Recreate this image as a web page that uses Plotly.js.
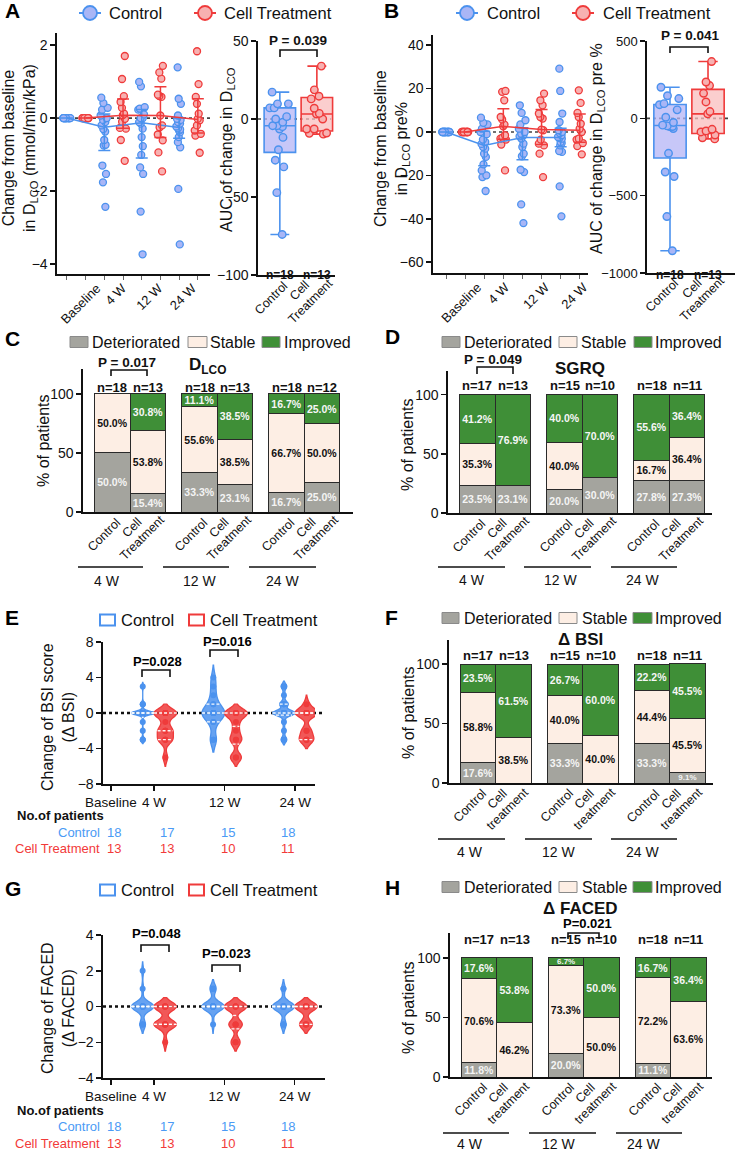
<!DOCTYPE html>
<html><head><meta charset="utf-8">
<script src="https://cdn.plot.ly/plotly-3.0.1.min.js"></script>
<style>html,body{margin:0;padding:0;background:#fff}#chart{width:741px;height:1151px}</style>
</head><body><div id="chart"></div>
<script>
// ================= DATA =================
const timeLabels = ['Baseline', '4 W', '12 W', '24 W'];
const armNames = ['Control', 'Cell Treatment'];
const weekLabels = ['4 W', '12 W', '24 W'];
const barArmLabelsCD = ['Control', 'Cell<br>Treatment'];
const barArmLabelsFH = ['Control', 'Cell<br>treatment'];
const outcomeNames = ['Deteriorated', 'Stable', 'Improved'];

// Panel A: change from baseline in DLCO (mmol/min/kPa), per time point
const dlcoCtrl = [
  [0,0,0,0,0,0,0,0,0,0,0,0,0,0,0,0,0,0],
  [0.56,0.41,0.28,0.23,0.07,0,-0.05,-0.11,-0.2,-0.3,-0.37,-0.6,-0.73,-0.75,-1.3,-1.53,-1.76,-2.43],
  [0.99,0.87,0.30,0.26,0.23,0.10,0,0,-0.11,-0.15,-0.29,-0.52,-0.77,-1.01,-1.35,-1.53,-2.56,-3.73],
  [1.39,0.53,0.39,0.07,-0.02,-0.05,-0.11,-0.15,-0.23,-0.28,-0.31,-0.34,-0.39,-0.52,-0.66,-0.8,-1.94,-3.46]
];
const dlcoCell = [
  [0,0,0,0,0,0,0,0,0,0,0,0,0],
  [1.70,1.07,0.60,0.44,0.28,0.12,0.08,-0.02,-0.1,-0.27,-0.29,-0.60,-1.17],
  [1.43,1.25,1.08,0.64,0.6,0.58,0.07,-0.2,-0.25,-0.45,-0.61,-0.94,-1.46],
  [1.83,0.93,0.58,0.39,0.12,-0.02,-0.06,-0.2,-0.34,-0.43,-0.48,-0.95]
];
const aucDlcoCtrl = [17.2,9.7,9.7,7.1,7.1,1.5,0,-2.1,-4.3,-4.3,-4.9,-6.4,-11.8,-19.7,-26.4,-30.7,-47.2,-74.0];
const aucDlcoCell = [33.9,18.7,14.6,12.9,6.9,3.6,3.2,0,-6.4,-6.4,-9.2,-9.0,-9.7];

// Panel B: change from baseline in DLCO pre%
const dlcoPctCtrl = [
  [0,0,0,0,0,0,0,0,0,0,0,0,0,0,0,0,0,0],
  [6.6,4.2,3.5,1.5,0,-1.0,-3.5,-4.6,-5.5,-6.9,-7.7,-10,-11.5,-14.9,-17.7,-20,-20.8,-27.2],
  [12.3,8.8,5.4,3.5,1.5,0,-0.8,-1.5,-2,-3,-5.4,-6.9,-10,-11.2,-17.4,-18.5,-33.4,-42],
  [29.2,18.9,8.5,4.6,0.8,0,-0.5,-1.5,-2.3,-2.8,-3.1,-4.6,-5.1,-6.2,-8.8,-9.2,-25.1,-38.9]
];
const dlcoPctCell = [
  [0,0,0,0,0,0,0,0,0,0,0,0,0],
  [18.9,18.5,14.6,6.9,5.8,3.4,2.6,-1.5,-2.6,-3.1,-3.5,-5.8,-17.7],
  [17.7,14.6,12.3,8.5,6.9,6.2,1.1,0.8,-3.5,-5.4,-6.2,-10,-20.8],
  [19.2,13.4,8.8,6.9,3.8,1.5,0,-3.1,-3.5,-5.1,-6.5,-10.3]
];
const aucPctCtrl = [201,146,128,95,88,55,7,-27,-44,-49,-53,-53,-66,-226,-347,-376,-635,-856];
const aucPctCell = [367,235,212,162,106,44,29,-71,-82,-88,-108,-126,-133];

// Panel C: DLCO categories (%), order: 4W ctrl, 4W cell, 12W ctrl, 12W cell, 24W ctrl, 24W cell
const dlcoDet    = [50.0, 15.4, 33.3, 23.1, 16.7, 25.0];
const dlcoStable = [50.0, 53.8, 55.6, 38.5, 66.7, 50.0];
const dlcoImp    = [0,    30.8, 11.1, 38.5, 16.7, 25.0];
const dlcoN      = [18, 13, 18, 13, 18, 12];

// Panel D: SGRQ
const sgrqDet    = [23.5, 23.1, 20.0, 30.0, 27.8, 27.3];
const sgrqStable = [35.3, 0,    40.0, 0,    16.7, 36.4];
const sgrqImp    = [41.2, 76.9, 40.0, 70.0, 55.6, 36.4];
const sgrqN      = [17, 13, 15, 10, 18, 11];

// Panel E: change of BSI score (4W, 12W, 24W)
const bsiCtrl = [
  [3,1,1,0,0,0,0,0,0,0,0,0,0,-1,-2,-3,-3],
  [4,3,2,1,1,0,0,0,0,0,0,-1,-1,-3,-3],
  [3,3,2,1,1,1,0,0,0,0,0,0,0,0,-1,-2,-3,-3]
];
const bsiCell = [
  [0,0,0,0,0,-1,-2,-2,-2,-3,-3,-3,-5],
  [0,0,0,0,-1,-2,-3,-3,-5,-5],
  [1,0,0,0,0,0,-2,-2,-3,-3,-3]
];
const bsiNCtrl = [18, 17, 15, 18];
const bsiNCell = [13, 13, 10, 11];

// Panel F: ΔBSI categories
const bsiDet    = [17.6, 0,    33.3, 0,    33.3, 9.1];
const bsiStable = [58.8, 38.5, 40.0, 40.0, 44.4, 45.5];
const bsiImp    = [23.5, 61.5, 26.7, 60.0, 22.2, 45.5];
const bsiN      = [17, 13, 15, 10, 18, 11];

// Panel G: change of FACED
const facedCtrl = [
  [2,1,0,0,0,0,0,0,0,0,0,0,0,0,-1,-1,-1],
  [1,1,1,0,0,0,0,0,0,0,0,0,0,0,-1],
  [1,1,0,0,0,0,0,0,0,0,0,0,0,0,0,-1,-1,-1]
];
const facedCell = [
  [0,0,0,0,0,0,-1,-1,-1,-1,-1,-1,-2],
  [0,0,0,0,0,-1,-1,-1,-2,-2],
  [0,0,0,0,0,0,0,-1,-1,-1,-1]
];
const facedNCtrl = [18, 17, 15, 18];
const facedNCell = [13, 13, 10, 11];

// Panel H: ΔFACED categories
const facedDet    = [11.8, 0,    20.0, 0,    11.1, 0];
const facedStable = [70.6, 46.2, 73.3, 50.0, 72.2, 63.6];
const facedImp    = [17.6, 53.8, 6.7,  50.0, 16.7, 36.4];
const facedN      = [17, 13, 15, 10, 18, 11];

// ================= STYLE / HELPERS =================
const FONT = 'Liberation Sans, Arial, Helvetica, sans-serif';
const W = 741, H = 1151;
const px = v => v / W;
const py = v => 1 - v / H;
const BLUE = '#4b92ee', BLUE_FILL = '#a9b6f6', BLUE_BOX = 'rgba(180,180,245,0.75)';
const RED = '#ef3b3b', RED_FILL = '#f7b1b1', RED_BOX = 'rgba(250,190,190,0.75)';
const TBLUE = '#4a9af5', TRED = '#f23a3a';
const OUT_COLORS = ['#a4a49e', '#fdeee4', '#3f8f37'];
const OUT_TEXT = ['#f4f4f4', '#111', '#f6f6f6'];
// kernel bandwidths (styling of the violin outlines), per arm and time point
const bwBsi = [[0.22, 0.7, 0.3], [0.5, 0.5, 0.5]];
const bwFaced = [[0.25, 0.25, 0.25], [0.25, 0.25, 0.25]];
const VIOLIN_W = 0.32;

function quant(arr, p) {
  const s = [...arr].sort((a, b) => a - b); const n = s.length;
  let pos = p * (n + 1); if (pos < 1) pos = 1; if (pos > n) pos = n;
  const lo = Math.floor(pos), hi = Math.ceil(pos);
  return s[lo - 1] + (s[hi - 1] - s[lo - 1]) * (pos - lo);
}
function kde(vals, bw, y) { return vals.reduce((s, v) => s + Math.exp(-0.5 * Math.pow((y - v) / bw, 2)), 0); }
function violinHalfWidth(vals, bw, y) {
  const lo = Math.min(...vals) - 2 * bw, hi = Math.max(...vals) + 2 * bw;
  let mx = 0;
  for (let k = 0; k <= 400; k++) mx = Math.max(mx, kde(vals, bw, lo + (hi - lo) * k / 400));
  return kde(vals, bw, y) / mx * VIOLIN_W / 2;
}
function axisBase(extra) {
  return Object.assign({
    showgrid: false, zeroline: false, showline: true, linecolor: '#111', linewidth: 1.6,
    ticks: 'outside', ticklen: 5, tickwidth: 1.5, tickcolor: '#111',
    tickfont: {family: FONT, size: 14, color: '#111'}, fixedrange: true
  }, extra);
}
function T(text, x, y, o) {
  return Object.assign({text, x: px(x), y: py(y), xref: 'paper', yref: 'paper', showarrow: false,
    xanchor: 'center', yanchor: 'middle', font: {family: FONT, size: 13, color: '#000'}}, o || {});
}
const traces = [];
const annotations = [];
const shapes = [];

function addTimeScatter(ctrlArr, cellArr, xa, ya) {
  [ctrlArr, cellArr].forEach((series, arm) => {
    const c = arm === 0 ? BLUE : RED, f = arm === 0 ? BLUE_FILL : RED_FILL;
    const xs = [], meds = [], up = [], dn = [];
    series.forEach((vals, t) => {
      const pos = 2 * t + arm;
      traces.push({type: 'box', x: vals.map(() => pos), y: vals, xaxis: xa, yaxis: ya, name: armNames[arm],
        boxpoints: 'all', jitter: 0.75, pointpos: 0, width: 0.55,
        fillcolor: 'rgba(0,0,0,0)', line: {width: 0, color: 'rgba(0,0,0,0)'},
        marker: {size: 7, color: f, line: {color: c, width: 1.3}}, hoverinfo: 'y'});
      const m = quant(vals, 0.5);
      xs.push(pos); meds.push(m); up.push(quant(vals, 0.75) - m); dn.push(m - quant(vals, 0.25));
    });
    traces.push({type: 'scatter', mode: 'lines', x: xs, y: meds, xaxis: xa, yaxis: ya, name: armNames[arm],
      line: {color: c, width: 1.5},
      error_y: {type: 'data', symmetric: false, array: up, arrayminus: dn, color: c, thickness: 1.5, width: 6}});
  });
}
function addAuc(ctrl, cell, xa, ya) {
  [ctrl, cell].forEach((vals, arm) => {
    const c = arm === 0 ? BLUE : RED, f = arm === 0 ? BLUE_FILL : RED_FILL, bf = arm === 0 ? BLUE_BOX : RED_BOX;
    traces.push({type: 'box', orientation: 'v', x: [arm], q1: [quant(vals, 0.25)], median: [quant(vals, 0.5)],
      q3: [quant(vals, 0.75)], lowerfence: [Math.min(...vals)], upperfence: [Math.max(...vals)],
      width: 0.85, whiskerwidth: 0.6, fillcolor: bf, line: {color: c, width: 1.6}, boxpoints: false,
      xaxis: xa, yaxis: ya, name: armNames[arm], hoverinfo: 'skip'});
    traces.push({type: 'box', x: vals.map(() => arm), y: vals, xaxis: xa, yaxis: ya, name: armNames[arm],
      boxpoints: 'all', jitter: 0.8, pointpos: 0, width: 0.85,
      fillcolor: 'rgba(0,0,0,0)', line: {width: 0, color: 'rgba(0,0,0,0)'},
      marker: {size: 7.5, color: f, line: {color: c, width: 1.4}}, hoverinfo: 'y'});
  });
}
function barPositions(n) { return Array.from({length: n}, (_, i) => Math.floor(i / 2) * 2.45 + (i % 2)); }
function addBars(det, stab, imp, xa, ya) {
  const pos = barPositions(det.length);
  [det, stab, imp].forEach((vals, k) => {
    const idx = vals.map((v, i) => i).filter(i => vals[i] > 0);
    traces.push({type: 'bar', x: idx.map(i => pos[i]), y: idx.map(i => vals[i]), width: 1, xaxis: xa, yaxis: ya,
      name: outcomeNames[k], marker: {color: OUT_COLORS[k], line: {color: '#2a2a2a', width: 1}},
      text: idx.map(i => vals[i].toFixed(1) + '%'), textposition: 'inside',
      insidetextanchor: 'middle', textangle: 0, constraintext: 'none',
      textfont: {family: FONT, size: idx.map(i => vals[i] < 10 ? 8 : 10.5), color: OUT_TEXT[k], weight: 700},
      hoverinfo: 'y'});
  });
}
function addViolins(ctrl, cell, xa, ya, bws) {
  [ctrl, cell].forEach((series, arm) => {
    const c = arm === 0 ? BLUE : RED;
    const fc = arm === 0 ? 'rgba(75,146,238,0.85)' : 'rgba(239,59,59,0.85)';
    series.forEach((vals, t) => {
      const pos = t + 1 + (arm === 0 ? -0.16 : 0.16);
      const bw = bws[arm][t];
      traces.push({type: 'violin', x: vals.map(() => pos), y: vals, xaxis: xa, yaxis: ya, name: armNames[arm],
        width: VIOLIN_W, bandwidth: bw, scalemode: 'width', spanmode: 'soft', fillcolor: fc,
        line: {color: c, width: 1.3}, points: 'all', pointpos: 0, jitter: 0,
        marker: {size: 6, color: c}, box: {visible: false}, meanline: {visible: false}, hoverinfo: 'y'});
      // median & quartile lines (dashed white), spanning the violin's width at that level
      [0.25, 0.5, 0.75].forEach(p => {
        const q = quant(vals, p);
        const hw = violinHalfWidth(vals, bw, q);
        shapes.push({type: 'line', xref: xa, yref: ya, x0: pos - hw, x1: pos + hw, y0: q, y1: q,
          line: {color: 'rgba(255,255,255,0.95)', width: 1.3, dash: '3px,2px'}});
      });
    });
  });
}
function bracket(x0, x1, yt, yb) {
  shapes.push({type: 'path', xref: 'paper', yref: 'paper',
    path: `M${px(x0)},${py(yb)} L${px(x0)},${py(yt)} L${px(x1)},${py(yt)} L${px(x1)},${py(yb)}`,
    line: {color: '#111', width: 1.6}});
}
function zeroLine(xa, ya, x1, color, width) {
  shapes.push({type: 'line', xref: xa + ' domain', yref: ya, x0: 0, x1: x1, y0: 0, y1: 0, layer: 'below',
    line: {color, width, dash: 'dot'}});
}
function nLabels(ns, xa, ypx) {
  barPositions(ns.length).forEach((p, i) => annotations.push({text: '<b>n=' + ns[i] + '</b>', x: p, xref: xa,
    y: py(ypx), yref: 'paper', showarrow: false, font: {family: FONT, size: 13, color: '#111'}}));
}
// rotated category labels under an axis (each text line placed as its own rotated label)
function catLabels(xa, positions, texts, axisY) {
  positions.forEach((p, i) => {
    const parts = texts[i].split('<br>');
    const base = {x: p, xref: xa, y: py(axisY), yref: 'paper', xanchor: 'center', yanchor: 'middle',
      textangle: -45, showarrow: false, font: {family: FONT, size: 12.5, color: '#111'}};
    if (parts.length === 1) {
      annotations.push(Object.assign({text: parts[0], xshift: -8.5, yshift: -23}, base));
    } else {
      annotations.push(Object.assign({text: parts[0], xshift: -16.5, yshift: -15.5}, base));
      annotations.push(Object.assign({text: parts[1], xshift: -6, yshift: -26}, base));
    }
  });
}
function groupUnder(lines, labelsX, yLine, yText) {
  lines.forEach((l, i) => {
    shapes.push({type: 'line', xref: 'paper', yref: 'paper', x0: px(l[0]), x1: px(l[1]), y0: py(yLine), y1: py(yLine),
      line: {color: '#111', width: 1.6}});
    annotations.push(T(weekLabels[i], labelsX[i], yText, {font: {family: FONT, size: 14, color: '#111'}}));
  });
}
function patientTable(nC, nT, yHead, yC, yT) {
  annotations.push(T('<b>No.of patients</b>', 15, yHead, {xanchor: 'left', font: {family: FONT, size: 13, color: '#111'}}));
  annotations.push(T(armNames[0], 102, yC, {xanchor: 'right', font: {family: FONT, size: 13, color: TBLUE}}));
  annotations.push(T(armNames[1], 102, yT, {xanchor: 'right', font: {family: FONT, size: 13, color: TRED}}));
  const xs = [114, 167, 228, 288];
  nC.forEach((n, i) => annotations.push(T(String(n), xs[i], yC, {font: {family: FONT, size: 13, color: TBLUE}})));
  nT.forEach((n, i) => annotations.push(T(String(n), xs[i], yT, {font: {family: FONT, size: 13, color: TRED}})));
}
// legends drawn as key shapes + text
function keyLineMarker(items, y) {
  items.forEach(([xc, tx], arm) => {
    const c = arm === 0 ? BLUE : RED, f = arm === 0 ? BLUE_FILL : RED_FILL;
    shapes.push({type: 'line', xref: 'paper', yref: 'paper', x0: px(xc - 11), x1: px(xc + 11), y0: py(y), y1: py(y), line: {color: c, width: 2}});
    shapes.push({type: 'circle', xref: 'paper', yref: 'paper', x0: px(xc - 7), x1: px(xc + 7), y0: py(y + 7), y1: py(y - 7),
      fillcolor: f, line: {color: c, width: 1.8}});
    annotations.push(T(armNames[arm], tx, y, {xanchor: 'left', font: {family: FONT, size: 16.5, color: '#111'}}));
  });
}
function keySwatch(items, y) {
  items.forEach(([x0, x1, tx], k) => {
    shapes.push({type: 'rect', xref: 'paper', yref: 'paper', x0: px(x0), x1: px(x1), y0: py(y + 5.5), y1: py(y - 5.5),
      fillcolor: OUT_COLORS[k], line: {color: '#8a8a8a', width: 1}});
    annotations.push(T(outcomeNames[k], tx, y, {xanchor: 'left', font: {family: FONT, size: 16, color: '#111'}}));
  });
}
function keyBox(items, y) {
  items.forEach(([x0, x1, tx], arm) => {
    const c = arm === 0 ? BLUE : RED;
    shapes.push({type: 'rect', xref: 'paper', yref: 'paper', x0: px(x0), x1: px(x1), y0: py(y + 5.5), y1: py(y - 5.5),
      fillcolor: 'rgba(0,0,0,0)', line: {color: c, width: 2}});
    annotations.push(T(armNames[arm], tx, y, {xanchor: 'left', font: {family: FONT, size: 16.5, color: '#111'}}));
  });
}

// ================= BUILD =================
addTimeScatter(dlcoCtrl, dlcoCell, 'x', 'y');
addAuc(aucDlcoCtrl, aucDlcoCell, 'x2', 'y2');
addTimeScatter(dlcoPctCtrl, dlcoPctCell, 'x3', 'y3');
addAuc(aucPctCtrl, aucPctCell, 'x4', 'y4');
addBars(dlcoDet, dlcoStable, dlcoImp, 'x5', 'y5');
addBars(sgrqDet, sgrqStable, sgrqImp, 'x6', 'y6');
addViolins(bsiCtrl, bsiCell, 'x7', 'y7', bwBsi);
addBars(bsiDet, bsiStable, bsiImp, 'x8', 'y8');
addViolins(facedCtrl, facedCell, 'x9', 'y9', bwFaced);
addBars(facedDet, facedStable, facedImp, 'x10', 'y10');

zeroLine('x', 'y', 1, '#444', 1.6);
zeroLine('x2', 'y2', 0.95, '#444', 1.6);
zeroLine('x3', 'y3', 1, '#444', 1.6);
zeroLine('x4', 'y4', 0.95, '#444', 1.6);
zeroLine('x7', 'y7', 1.04, '#111', 2.6);
zeroLine('x9', 'y9', 1, '#111', 2.6);

// keys
keyLineMarker([[90, 107], [205, 222]], 13);
keyLineMarker([[467, 485], [583, 601]], 13);
keySwatch([[70, 88, 90], [188, 207, 208], [262, 280, 282]], 342);
keySwatch([[442, 460, 462], [559, 577, 579], [634, 652, 653]], 342);
keyBox([[100, 115, 119], [189, 204, 208]], 620);
keySwatch([[442, 459, 462], [559, 577, 580], [633, 652, 653]], 618);
keyBox([[100, 115, 119], [189, 204, 208]], 890);
keySwatch([[442, 459, 462], [559, 577, 580], [633, 652, 653]], 887);

const barPos = barPositions(6);
const cdText = barPos.map((_, i) => barArmLabelsCD[i % 2]);
const fhText = barPos.map((_, i) => barArmLabelsFH[i % 2]);
catLabels('x2', [0, 1], barArmLabelsCD, 275);
catLabels('x4', [0, 1], barArmLabelsCD, 273);
catLabels('x5', barPos, cdText, 512);
catLabels('x6', barPos, cdText, 513);
catLabels('x8', barPos, fhText, 783);
catLabels('x10', barPos, fhText, 1077);

// panel letters
[['A', 3, 11], ['B', 382, 11], ['C', 3, 338], ['D', 383, 337], ['E', 3, 617], ['F', 383, 617], ['G', 3, 888], ['H', 383, 887]]
  .forEach(([l, x, y]) => annotations.push(T('<b>' + l + '</b>', x, y, {xanchor: 'left', font: {family: FONT, size: 21, color: '#000'}})));

// y titles
const yt = (text, x, y) => annotations.push(T(text, x, y, {textangle: -90, font: {family: FONT, size: 16, color: '#111'}}));
yt('Change from baseline<br>in D<sub>LCO</sub> (mmol/min/kPa)', 20, 148);
yt('AUC of change in D<sub>LCO</sub>', 228, 150);
yt('Change from baseline<br>in D<sub>LCO</sub> pre%', 392, 149);
yt('AUC of change in D<sub>LCO</sub> pre %', 598, 149);
yt('% of patients', 43, 441);
yt('% of patients', 408, 445);
yt('Change of BSI score<br>(\u0394 BSI)', 58, 717);
yt('% of patients', 408, 713);
yt('Change of FACED<br>(\u0394 FACED)', 58, 1008);
yt('% of patients', 408, 1008);

// AUC n labels
[[aucDlcoCtrl, aucDlcoCell, 'x2', 266], [aucPctCtrl, aucPctCell, 'x4', 266]].forEach(([a, b, xa, y]) => {
  [a, b].forEach((vals, arm) => annotations.push({text: '<b>n=' + vals.length + '</b>', x: arm, xref: xa, y: py(y), yref: 'paper',
    showarrow: false, font: {family: FONT, size: 12, color: '#111'}}));
});

// P-values + brackets
const bold = s => '<b>' + s + '</b>';
annotations.push(T(bold('P = 0.039'), 298, 40, {font: {family: FONT, size: 13.5}}));  bracket(280, 317, 50, 57);
annotations.push(T(bold('P = 0.041'), 690, 35, {font: {family: FONT, size: 13.5}}));  bracket(670, 708, 47, 53);
annotations.push(T(bold('P = 0.017'), 127, 362, {font: {family: FONT, size: 13.5}})); bracket(111, 147, 370, 376);
annotations.push(T(bold('P = 0.049'), 493, 359, {font: {family: FONT, size: 13.5}})); bracket(477, 513, 367, 374);
annotations.push(T(bold('P=0.028'), 157, 661)); bracket(142, 170, 670, 677);
annotations.push(T(bold('P=0.016'), 227, 641)); bracket(210, 238, 650, 657);
annotations.push(T(bold('P=0.048'), 156, 933)); bracket(141, 169, 945, 952);
annotations.push(T(bold('P=0.023'), 226, 953)); bracket(212, 240, 965, 972);
annotations.push(T(bold('P=0.021'), 587, 924)); bracket(568, 599, 933, 939);

// bar-panel titles
annotations.push(T(bold('D<sub>LCO</sub>'), 207, 366, {font: {family: FONT, size: 17}}));
annotations.push(T(bold('SGRQ'), 580, 368, {font: {family: FONT, size: 17}}));
annotations.push(T(bold('\u0394 BSI'), 580, 639, {font: {family: FONT, size: 17}}));
annotations.push(T(bold('\u0394 FACED'), 580, 908, {font: {family: FONT, size: 17}}));

nLabels(dlcoN, 'x5', 387);
nLabels(sgrqN, 'x6', 386);
nLabels(bsiN, 'x8', 655);
nLabels(facedN, 'x10', 949);

groupUnder([[78, 143], [163, 229], [249, 316]], [107, 199, 282], 567, 581);
groupUnder([[438, 505], [524, 591], [611, 677]], [472, 560, 642], 567, 580);
groupUnder([[438, 505], [525, 592], [611, 677]], [470, 558, 642], 839, 852);
groupUnder([[443, 509], [529, 596], [616, 682]], [470, 558, 643], 1133, 1144);

patientTable(bsiNCtrl, bsiNCell, 815, 832, 848);
patientTable(facedNCtrl, facedNCell, 1110, 1126, 1143);

const minorTicks = {tickmode: 'linear', tick0: 0, dtick: 1, ticks: 'outside', ticklen: 4, tickcolor: '#666', tickwidth: 1};
const violinX = {tickmode: 'array', tickvals: [0.39, 1, 2, 3], ticktext: timeLabels, tickangle: 0,
  tickfont: {family: FONT, size: 13.5, color: '#111'}};
const noTickLabels = {showticklabels: false, ticks: ''};
const scatterTickFont = {family: FONT, size: 13, color: '#111'};
const layout = {
  width: W, height: H, margin: {l: 0, r: 0, t: 0, b: 0}, paper_bgcolor: '#fff', plot_bgcolor: 'rgba(0,0,0,0)',
  font: {family: FONT, color: '#111'}, showlegend: false,
  barmode: 'stack', boxmode: 'overlay', violinmode: 'overlay',
  xaxis: axisBase({domain: [px(57), px(210)], range: [-0.53, 7.65], anchor: 'y', tickmode: 'array',
    tickvals: [1.6, 2.97, 4.9, 6.7], ticktext: timeLabels, tickangle: -45, ticklen: 0, minor: minorTicks, tickfont: scatterTickFont}),
  yaxis: axisBase({domain: [py(274), py(33)], range: [-4.27, 2.33], anchor: 'x', tickvals: [-4, -2, 0, 2]}),
  xaxis2: axisBase(Object.assign({domain: [px(258), px(335)], range: [-0.59, 1.49], anchor: 'y2', tickvals: [0, 1]}, noTickLabels)),
  yaxis2: axisBase({domain: [py(275), py(41)], range: [-100, 50], anchor: 'x2', tickvals: [-100, -50, 0, 50]}),
  xaxis3: axisBase({domain: [px(433), px(588)], range: [-0.68, 7.43], anchor: 'y3', tickmode: 'array',
    tickvals: [1.65, 3.1, 5.2, 7.2], ticktext: timeLabels, tickangle: -45, ticklen: 0, minor: minorTicks, tickfont: scatterTickFont}),
  yaxis3: axisBase({domain: [py(273), py(35)], range: [-65, 44.7], anchor: 'x3', tickvals: [-60, -40, -20, 0, 20, 40]}),
  xaxis4: axisBase(Object.assign({domain: [px(647), px(735)], range: [-0.605, 1.71], anchor: 'y4', tickvals: [0, 1]}, noTickLabels)),
  yaxis4: axisBase({domain: [py(273), py(41)], range: [-1000, 500], anchor: 'x4', tickvals: [-1000, -500, 0, 500],
    tickfont: {family: FONT, size: 13, color: '#111'}}),
  xaxis5: axisBase(Object.assign({domain: [px(83), px(353)], range: [-0.83, 6.77], anchor: 'y5'}, noTickLabels)),
  yaxis5: axisBase({domain: [py(512), py(369)], range: [0, 121], anchor: 'x5', tickvals: [0, 50, 100]}),
  xaxis6: axisBase(Object.assign({domain: [px(448), px(712)], range: [-0.83, 6.6], anchor: 'y6'}, noTickLabels)),
  yaxis6: axisBase({domain: [py(513), py(371)], range: [0, 120], anchor: 'x6', tickvals: [0, 50, 100]}),
  xaxis7: axisBase(Object.assign({domain: [px(103), px(315)], range: [0.277, 3.28], anchor: 'y7'}, violinX)),
  yaxis7: axisBase({domain: [py(784), py(642)], range: [-8, 8], anchor: 'x7', tickvals: [-8, -4, 0, 4, 8]}),
  xaxis8: axisBase(Object.assign({domain: [px(449), px(713)], range: [-0.82, 6.62], anchor: 'y8'}, noTickLabels)),
  yaxis8: axisBase({domain: [py(783), py(640)], range: [0, 120.2], anchor: 'x8', tickvals: [0, 50, 100]}),
  xaxis9: axisBase(Object.assign({domain: [px(103), px(325)], range: [0.277, 3.43], anchor: 'y9'}, violinX)),
  yaxis9: axisBase({domain: [py(1078), py(935)], range: [-4, 4], anchor: 'x9', tickvals: [-4, -2, 0, 2, 4]}),
  xaxis10: axisBase(Object.assign({domain: [px(450), px(712)], range: [-0.82, 6.56], anchor: 'y10'}, noTickLabels)),
  yaxis10: axisBase({domain: [py(1077), py(933)], range: [0, 121], anchor: 'x10', tickvals: [0, 50, 100]}),
  annotations, shapes
};
Plotly.newPlot('chart', traces, layout, {staticPlot: true, displayModeBar: false});
</script></body></html>
